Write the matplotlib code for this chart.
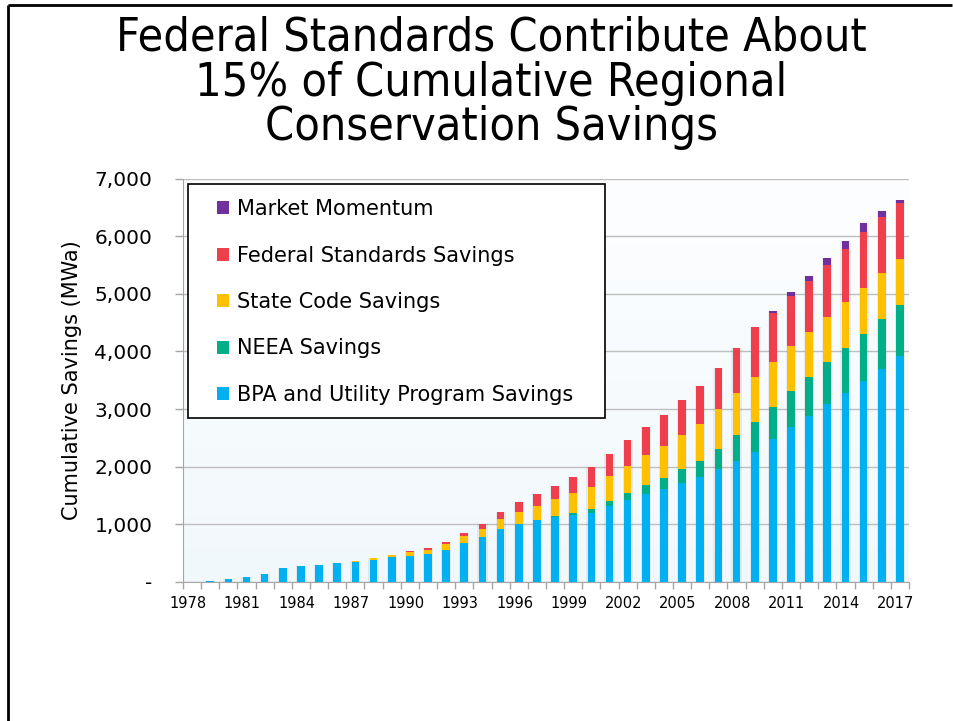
import numpy as np
import matplotlib
matplotlib.use("Agg")
import matplotlib.pyplot as plt
from matplotlib.lines import Line2D
from matplotlib.patches import Rectangle, Patch
from matplotlib.transforms import ScaledTranslation
from matplotlib.ticker import FuncFormatter

years = list(range(1978, 2018))

# cumulative savings by source (MWa)
bpa = [0, 20, 45, 80, 145, 243, 278, 301, 335, 347,
       382, 428, 457, 491, 561, 680, 786, 920, 1012, 1076,
       1128, 1162, 1202, 1318, 1428, 1527, 1608, 1718, 1827, 1955,
       2099, 2261, 2476, 2695, 2886, 3094, 3285, 3482, 3695, 3916]
neea = [0, 0, 0, 0, 0, 0, 0, 0, 0, 0,
        0, 0, 0, 0, 0, 0, 0, 0, 0, 0,
        17, 40, 59, 87, 121, 156, 202, 237, 272, 358,
        446, 515, 555, 619, 671, 729, 775, 821, 862, 884]
state = [0, 0, 0, 0, 0, 0, 0, 0, 0, 17,
         29, 35, 58, 70, 93, 112, 134, 167, 202, 248,
         289, 336, 387, 434, 469, 515, 555, 595, 648, 683,
         740, 786, 780, 786, 780, 780, 798, 804, 804, 804]
federal = [0, 0, 0, 0, 0, 0, 0, 0, 0, 0,
           0, 0, 23, 29, 46, 60, 92, 127, 168, 197,
           237, 284, 342, 382, 446, 486, 538, 602, 659, 722,
           780, 856, 861, 868, 885, 897, 914, 965, 971, 966]
market = [0, 0, 0, 0, 0, 0, 0, 0, 0, 0,
          0, 0, 0, 0, 0, 0, 0, 0, 0, 0,
          0, 0, 0, 0, 0, 0, 0, 0, 0, 0,
          0, 0, 30, 58, 87, 116, 139, 151, 99, 57]

series = [
    ("BPA and Utility Program Savings", bpa, "#00b0f0"),
    ("NEEA Savings", neea, "#00ae88"),
    ("State Code Savings", state, "#ffc000"),
    ("Federal Standards Savings", federal, "#f03f4c"),
    ("Market Momentum", market, "#7030a0"),
]

title = "Federal Standards Contribute About\n15% of Cumulative Regional\nConservation Savings"

fig = plt.figure(figsize=(9.54, 7.21), dpi=100)
ax = fig.add_axes([0.1918, 0.1928, 0.7610, 0.5596])

x = np.arange(len(years))

# faint gradient behind the plot
grad = np.linspace(0, 1, 256).reshape(-1, 1)
ax.imshow(grad, extent=[0, 1, 0, 1], transform=ax.transAxes, aspect="auto",
          cmap=matplotlib.colors.LinearSegmentedColormap.from_list("bg", ["#f1f8fc", "#fdfeff"]),
          origin="lower", zorder=0)

# soft shadow around each bar
totals = np.sum([s[1] for s in series], axis=0)
ax.bar(x, totals, width=0.56, color="#000000", alpha=0.06, zorder=1.5)

bottom = np.zeros(len(years))
handles = []
for name, vals, col in series:
    vals = np.array(vals, dtype=float)
    ax.bar(x, vals, bottom=bottom, width=0.42, color=col, zorder=2)
    bottom += vals
    handles.append(Patch(facecolor=col, label=name))

ax.set_xlim(-0.5, len(years) - 0.5)
ax.set_ylim(0, 7000)
ax.set_yticks(range(0, 7001, 1000))
ax.yaxis.set_major_formatter(FuncFormatter(lambda v, p: "-" if v == 0 else f"{int(v):,}"))
ax.grid(axis="y", color="#bfbfbf", linewidth=1.0, zorder=1)
ax.set_axisbelow(True)

ax.set_xticks(x[::3])
ax.set_xticklabels([str(y) for y in years[::3]])
ax.set_xticks(np.arange(-0.5, len(years), 1), minor=True)
ax.tick_params(axis="x", which="major", length=0, pad=10, labelsize=10.5)
ax.tick_params(axis="x", which="minor", length=5, color="#a6a6a6", width=1)
ax.tick_params(axis="y", length=6, color="#a6a6a6", width=1, pad=16, labelsize=14.5)
for lab in ax.get_xticklabels():
    lab.set_transform(lab.get_transform() + ScaledTranslation(-3 / 72, 0, fig.dpi_scale_trans))

for side in ["top", "right"]:
    ax.spines[side].set_visible(False)
for side in ["left", "bottom"]:
    ax.spines[side].set_color("#a6a6a6")

ax.set_ylabel("Cumulative Savings (MWa)", fontsize=15, labelpad=9)

# legend frame + entries
ax.add_patch(Rectangle((0.0069, 0.406), 0.574, 0.580, transform=ax.transAxes,
                       facecolor="white", edgecolor="black", linewidth=1.2, zorder=5))
leg = ax.legend(handles=handles[::-1], loc="upper left", bbox_to_anchor=(0.0468, 0.949),
                frameon=False, fontsize=15, borderpad=0, borderaxespad=0,
                handlelength=0.6, handleheight=0.6, handletextpad=0.35, labelspacing=1.27)
leg.set_zorder(6)

fig.text(0.515, 1 - 83 / 721, title, ha="center", va="center", fontsize=33.5,
         family="DejaVu Sans", fontstretch="condensed", linespacing=0.99)

# slide border
fig.add_artist(Line2D([8 / 954, 952 / 954], [1 - 5 / 721, 1 - 5 / 721], color="black",
                      linewidth=2, solid_capstyle="butt"))
fig.add_artist(Line2D([8 / 954, 8 / 954], [0, 1 - 5 / 721], color="black",
                      linewidth=2, solid_capstyle="butt"))

fig.savefig("out.png", dpi=100)
